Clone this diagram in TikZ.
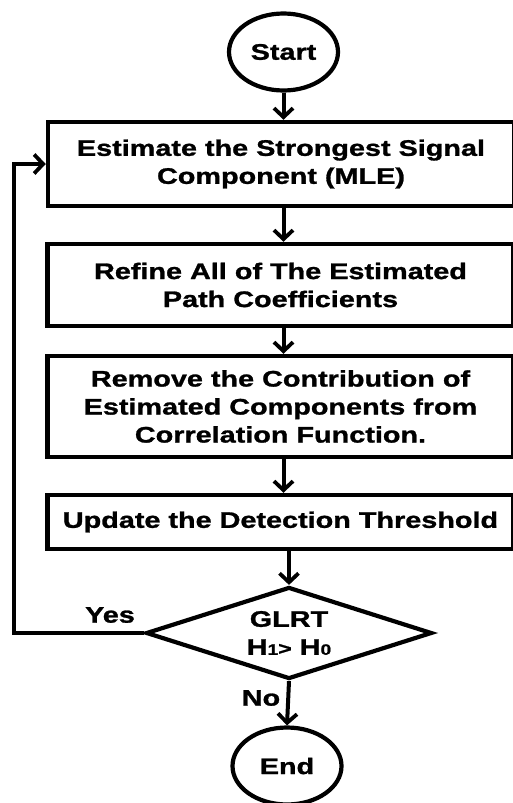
\documentclass[tikz,border=0pt]{standalone}
\usepackage{fontspec}
\setmainfont{Liberation Sans}[FakeStretch=1.28,FakeBold=1.2]
\usetikzlibrary{shapes.geometric,arrows.meta}
\begin{document}
\begin{tikzpicture}[x=1pt,y=-1pt,
  every node/.style={font=\bfseries\fontsize{22.5}{28}\selectfont},
  box/.style={draw,line width=4.5pt,rectangle,inner sep=0pt,align=center,minimum width=466pt},
  term/.style={draw,line width=4.2pt,ellipse,inner sep=0pt,minimum width=109pt,minimum height=77pt},
  dec/.style={draw,line width=4.2pt,diamond,aspect=3.1,inner sep=0pt,minimum width=286pt,minimum height=92pt,align=center},
  conn/.style={line width=4pt,-{Straight Barb[length=9pt,width=19pt,line width=3.8pt]}},
  lbl/.style={inner sep=0pt}
]
\useasboundingbox (0,0) rectangle (512,803);
\fill[white] (0,0) rectangle (512,803);
\node[term] (start) at (283.5,52) {Start};
\node[box,minimum height=84pt] (b1) at (281,164) {Estimate the Strongest Signal\\Component (MLE)};
\node[box,minimum height=82pt] (b2) at (280.5,285) {Refine All of The Estimated\\Path Coefficients};
\node[box,minimum height=101pt] (b3) at (280.5,406.5) {Remove the Contribution of\\Estimated Components from\\Correlation Function.};
\node[box,minimum height=54pt] (b4) at (280.5,522) {Update the Detection Threshold};
\node[dec] (dec) at (289,633) {GLRT\\H{\fontsize{15}{15}\selectfont 1}{\fontsize{18}{18}\selectfont>} H{\fontsize{15}{15}\selectfont 0}};
\node[term] (end) at (287,766) {End};
\coordinate (lp) at (14,633);
\node[lbl] (yes) at (110,615) {Yes};
\node[lbl] (no) at (261,698) {No};
\draw[conn] (start.south) -- (start.south |- b1.north);
\draw[conn] (b1.south -| start) -- (b2.north -| start);
\draw[conn] (b2.south -| start) -- (b3.north -| start);
\draw[conn] (b3.south -| start) -- (b4.north -| start);
\draw[conn] (b4.south -| dec) -- (dec.north);
\draw[conn] (dec.south) -- (end.north);
\draw[conn] (dec.west) -- (lp) |- (b1.west);
\end{tikzpicture}
\end{document}
